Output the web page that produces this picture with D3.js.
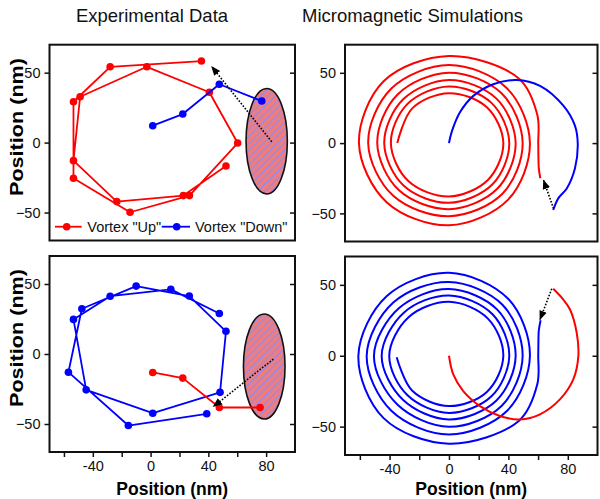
<!DOCTYPE html>
<html>
<head>
<meta charset="utf-8">
<script src="https://cdn.jsdelivr.net/npm/d3@7"></script>
<style>
  body { margin: 0; background: #fff; }
  text { font-family: "Liberation Sans", Arial, sans-serif; }
</style>
</head>
<body>
<svg id="chart" width="600" height="499"></svg>
<script>
// ---- data (nm) ----
var xTicks = [-60, -40, -20, 0, 20, 40, 60, 80];
var xTickLabels = [-40, 0, 40, 80];
var yTicks = [-50, 0, 50];
var titles = ["Experimental Data", "Micromagnetic Simulations"];
var legendNames = ['Vortex "Up"', 'Vortex "Down"'];

// experiment, top: vortex "up" (red) after switching, vortex "down" (blue) before
var expTopUpX = [35.2, -28, -53.4, -53.4, -14.2, 26.9, 60.3, 40.7, -2.6, -48.8, -53.4, -23.4, 22.7, 52.2];
var expTopUpY = [58.3, 54.2, 29.2, -25.5, -49.8, -37.9, -0.3, 36, 54.2, 32.8, -12.9, -42.2, -37.9, -16.7];
var expTopDownX = [1.5, 22.3, 47.6, 77];
var expTopDownY = [12.1, 20.4, 41.7, 29.7];

// experiment, bottom
var expBotDownX = [38.9, -15.4, -56.9, -47.6, -10, 26.8, 52.2, 48.1, 1.5, -44.6, -53.4, -28, 14, 47.6];
var expBotDownY = [-42.7, -51.1, -13, 32.3, 48.5, 41.4, 16.2, -27.4, -42.3, -25.6, 24.7, 41.3, 46.2, 28.9];
var expBotUpX = [1.5, 22.3, 47.6, 75.8];
var expBotUpY = [-13.2, -17.2, -38.2, -38.2];

// antenna ellipses [cx, cy, rx, ry] and switching arrows [x0, y0, x1, y1]
var ellipseTop = [80.4, 1, 14.3, 37.7];
var ellipseBot = [78.7, -8.9, 14.4, 37.5];
var arrowExpTop = [83.9, 0.6, 42.4, 54.3];
var arrowExpBot = [85, -3.6, 43.5, -37.5];
var arrowSimTop = [70.4, -46.5, 63.7, -26.5];
var arrowSimBot = [69.2, 47.2, 61.3, 25.6];

// simulations, top: red spiral (counter-clockwise, inward), blue arc
var simTopUpX = [61.5, 60.5, 60.2, 60.1, 59.5, 47, 0, -44, -60.6, -42, 0, 40, 54.5, 39, 0, -38.8, -54.4, -37.5, 0, 36, 49.6, 35.4, 0, -34.6, -48.3, -33.6, 0, 32.5, 44.9, 31.8, 0, -31, -43.6, -30.4, 0, 29.3, 40.6, 28.6, 0, -27.9, -39.1, -27.2, 0, 26.2, 36.6, 25.5, 0, -24.7, -34.8];
var simTopUpY = [-25, -18, -8, 0, 20, 46, 62, 44, 0, -42, -58.5, -40, 0, 39, 55.5, 38.8, 0, -37.5, -52, -36, 0, 35.4, 50.1, 34.6, 0, -33.6, -47, -32.5, 0, 31.8, 44.9, 31, 0, -30.4, -42.5, -29.3, 0, 28.6, 40.3, 27.9, 0, -27.2, -38, -26.2, 0, 25.5, 35.5, 24.7, 0];
var simTopDownX = [0, 1.8, 7.4, 16.4, 29.8, 45.6, 61.3, 77, 84.8, 86.7, 84.8, 79.3, 73.6, 70.2];
var simTopDownY = [0, 7.8, 21.9, 33.6, 41.9, 44.9, 40.7, 26.6, 12.4, -0.5, -18.1, -32.3, -39.3, -47.6];

// simulations, bottom: blue spiral (clockwise, inward), red arc
var simBotDownX = [61.7, 60.5, 60.2, 60.1, 59.5, 47, 0, -44, -61, -42, 0, 40, 54.5, 39, 0, -38.8, -55.4, -37.5, 0, 36, 49.6, 35.4, 0, -34.6, -50.5, -33.6, 0, 32.5, 44.9, 31.8, 0, -31, -45.3, -30.4, 0, 29.3, 40.6, 28.6, 0, -27.9, -40.2, -27.2, 0, 26.2, 36.6, 25.5, 0, -24.7, -35.2];
var simBotDownY = [25.1, 18, 8, 0, -20, -46, -62, -44, 0, 42, 58.5, 40, 0, -39, -55.5, -38.8, 0, 37.5, 52, 36, 0, -35.4, -50.1, -34.6, 0, 33.6, 47, 32.5, 0, -31.8, -44.9, -31, 0, 30.4, 42.5, 29.3, 0, -28.6, -40.3, -27.9, 0, 27.2, 38, 26.2, 0, -25.5, -35.5, -24.7, -1];
var simBotUpX = [0, 2.9, 9.6, 20.9, 34.3, 47.8, 61.3, 74.7, 83.7, 87.1, 86, 81.5, 77, 70.2];
var simBotUpY = [0, -13.2, -24.9, -35.5, -42.5, -44.9, -41.3, -30.8, -16.7, -0.3, 16.2, 32.6, 39.6, 47.2];

var RED = "#ff0000", BLUE = "#0000ff";

var svg = d3.select("#chart");

var defs = svg.append("defs");
var pat = defs.append("pattern")
  .attr("id", "hatch")
  .attr("patternUnits", "userSpaceOnUse")
  .attr("width", 5).attr("height", 5)
  .attr("patternTransform", "rotate(-45)");
pat.append("rect").attr("width", 5).attr("height", 5).attr("fill", "#f07c7c");
pat.append("line").attr("x1", 0).attr("y1", 2.5).attr("x2", 5).attr("y2", 2.5)
  .attr("stroke", "#8a8cf5").attr("stroke-width", 1.2);

defs.append("marker")
  .attr("id", "head")
  .attr("viewBox", "0 0 10 10")
  .attr("refX", 9).attr("refY", 5)
  .attr("markerWidth", 6).attr("markerHeight", 6)
  .attr("orient", "auto")
  .append("path").attr("d", "M0,1 L10,5 L0,9 Z").attr("fill", "#000");

function zip(xs, ys) {
  return xs.map(function (d, i) { return [d, ys[i]]; });
}

function makePanel(box, showX) {
  var x = d3.scaleLinear().domain([-70, 100]).range([box.x0, box.x1]);
  var y = d3.scaleLinear().domain([-70, 70]).range([box.y1, box.y0]);
  var g = svg.append("g");

  var yl = g.append("g").attr("transform", "translate(" + box.x0 + ",0)")
    .call(d3.axisLeft(y).tickValues(yTicks).tickSize(5).tickPadding(4));
  var yr = g.append("g").attr("transform", "translate(" + box.x1 + ",0)")
    .call(d3.axisLeft(y).tickValues(yTicks).tickSize(5).tickFormat(""));
  [yl, yr].forEach(function (a) {
    a.select(".domain").remove();
    a.selectAll("line").attr("stroke", "#111").attr("stroke-width", 1.5);
  });
  yl.selectAll("text").attr("font-size", 14.5).attr("fill", "#111")
    .style("font-family", '"Liberation Sans", Arial, sans-serif');
  yl.attr("font-family", null);

  if (showX) {
    var xa = g.append("g").attr("transform", "translate(0," + box.y1 + ")")
      .call(d3.axisBottom(x).tickValues(xTicks).tickSize(5).tickPadding(4)
        .tickFormat(function (d) { return xTickLabels.indexOf(d) >= 0 ? d : ""; }));
    xa.select(".domain").remove();
    xa.selectAll("line").attr("stroke", "#111").attr("stroke-width", 1.5);
    xa.selectAll("text").attr("font-size", 14.5).attr("fill", "#111")
      .style("font-family", '"Liberation Sans", Arial, sans-serif');
    xa.attr("font-family", null);

    g.append("text")
      .attr("x", (box.x0 + box.x1) / 2).attr("y", 495)
      .attr("text-anchor", "middle")
      .attr("font-size", 17.5).attr("font-weight", "bold")
      .text("Position (nm)");
  }

  var clipId = "clip" + Math.round(box.x0) + "_" + Math.round(box.y0);
  defs.append("clipPath").attr("id", clipId)
    .append("rect").attr("x", box.x0).attr("y", box.y0)
    .attr("width", box.x1 - box.x0).attr("height", box.y1 - box.y0);

  var plot = g.append("g").attr("clip-path", "url(#" + clipId + ")");

  g.append("rect")
    .attr("x", box.x0).attr("y", box.y0)
    .attr("width", box.x1 - box.x0).attr("height", box.y1 - box.y0)
    .attr("fill", "none").attr("stroke", "#111").attr("stroke-width", 2);

  return { x: x, y: y, g: g, plot: plot };
}

function yLabel(cx, cy) {
  svg.append("text")
    .attr("transform", "translate(" + cx + "," + cy + ") rotate(-90)")
    .attr("text-anchor", "middle")
    .attr("dy", "0.35em")
    .attr("font-size", 18).attr("font-weight", "bold")
    .attr("textLength", 138).attr("lengthAdjust", "spacingAndGlyphs")
    .text("Position (nm)");
}

function drawPath(p, pts, color, curved) {
  var line = d3.line()
    .x(function (d) { return p.x(d[0]); })
    .y(function (d) { return p.y(d[1]); });
  if (curved) line.curve(d3.curveCatmullRom.alpha(0.5));
  p.plot.append("path").datum(pts)
    .attr("d", line)
    .attr("fill", "none").attr("stroke", color)
    .attr("stroke-width", curved ? 2 : 1.8)
    .attr("stroke-linejoin", "round");
}

function drawDots(p, pts, color) {
  p.plot.selectAll(null).data(pts).enter().append("circle")
    .attr("cx", function (d) { return p.x(d[0]); })
    .attr("cy", function (d) { return p.y(d[1]); })
    .attr("r", 3.8).attr("fill", color);
}

function drawEllipse(p, e) {
  p.plot.append("ellipse")
    .attr("cx", p.x(e[0])).attr("cy", p.y(e[1]))
    .attr("rx", p.x(e[0] + e[2]) - p.x(e[0]))
    .attr("ry", p.y(e[1]) - p.y(e[1] + e[3]))
    .attr("fill", "url(#hatch)").attr("stroke", "#111").attr("stroke-width", 1.6);
}

function drawArrow(p, a) {
  p.plot.append("line")
    .attr("x1", p.x(a[0])).attr("y1", p.y(a[1]))
    .attr("x2", p.x(a[2])).attr("y2", p.y(a[3]))
    .attr("stroke", "#000").attr("stroke-width", 1.6)
    .attr("stroke-dasharray", "1.6,1.6")
    .attr("marker-end", "url(#head)");
}

// ---- panels ----
var tl = makePanel({ x0: 49.5, x1: 295, y0: 44.7, y1: 240.5 }, false);
var tr = makePanel({ x0: 345, x1: 597.5, y0: 44.7, y1: 241.5 }, false);
var bl = makePanel({ x0: 49.5, x1: 295, y0: 256, y1: 452 }, true);
var br = makePanel({ x0: 345, x1: 597.5, y0: 256.5, y1: 455 }, true);

yLabel(17, 127);
yLabel(17, 338);

svg.append("text").attr("x", 152).attr("y", 22).attr("text-anchor", "middle")
  .attr("font-size", 18.5).attr("fill", "#111").text(titles[0]);
svg.append("text").attr("x", 412.5).attr("y", 22).attr("text-anchor", "middle")
  .attr("font-size", 18.5).attr("fill", "#111").text(titles[1]);

// top-left experiment
drawEllipse(tl, ellipseTop);
drawPath(tl, zip(expTopUpX, expTopUpY), RED, false);
drawDots(tl, zip(expTopUpX, expTopUpY), RED);
drawPath(tl, zip(expTopDownX, expTopDownY), BLUE, false);
drawDots(tl, zip(expTopDownX, expTopDownY), BLUE);
drawArrow(tl, arrowExpTop);

// legend
var legY = 226.7;
[[55, 81.7, 66.7, 87.3, RED], [161.7, 190, 176.7, 195, BLUE]].forEach(function (l, i) {
  tl.g.append("line").attr("x1", l[0]).attr("x2", l[1]).attr("y1", legY).attr("y2", legY)
    .attr("stroke", l[4]).attr("stroke-width", 1.8);
  tl.g.append("circle").attr("cx", l[2]).attr("cy", legY).attr("r", 3.8).attr("fill", l[4]);
  tl.g.append("text").attr("x", l[3]).attr("y", legY).attr("dy", "0.36em")
    .attr("font-size", 14.5).attr("fill", "#111").text(legendNames[i]);
});

// bottom-left experiment
drawEllipse(bl, ellipseBot);
drawPath(bl, zip(expBotDownX, expBotDownY), BLUE, false);
drawDots(bl, zip(expBotDownX, expBotDownY), BLUE);
drawPath(bl, zip(expBotUpX, expBotUpY), RED, false);
drawDots(bl, zip(expBotUpX, expBotUpY), RED);
drawArrow(bl, arrowExpBot);

// simulations
drawPath(tr, zip(simTopUpX, simTopUpY), RED, true);
drawPath(tr, zip(simTopDownX, simTopDownY), BLUE, true);
drawArrow(tr, arrowSimTop);

drawPath(br, zip(simBotDownX, simBotDownY), BLUE, true);
drawPath(br, zip(simBotUpX, simBotUpY), RED, true);
drawArrow(br, arrowSimBot);
</script>
</body>
</html>
